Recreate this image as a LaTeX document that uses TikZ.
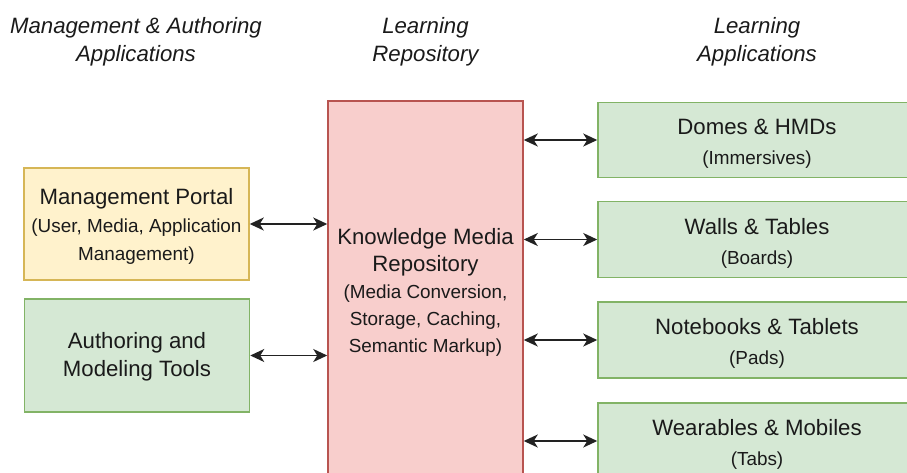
\documentclass[tikz,border=0pt]{standalone}
\usepackage{fontspec}
\setmainfont{Liberation Sans}
\usetikzlibrary{arrows.meta}

\definecolor{greenfill}{HTML}{D5E8D4}
\definecolor{greenline}{HTML}{82B366}
\definecolor{yellowfill}{HTML}{FFF2CC}
\definecolor{yellowline}{HTML}{D6B656}
\definecolor{redfill}{HTML}{F8CECC}
\definecolor{redline}{HTML}{B85450}
\definecolor{inkcol}{HTML}{1A1A1A}
\definecolor{arrowcol}{HTML}{222222}

\newcommand{\mainsize}{\fontsize{22.2}{28}\selectfont}
\newcommand{\subsize}{\fontsize{18.9}{28}\selectfont}

\tikzset{
  box/.style={draw, line width=1.5pt, inner sep=0pt},
  greenbox/.style={box, fill=greenfill, draw=greenline},
  yellowbox/.style={box, fill=yellowfill, draw=yellowline},
  redbox/.style={box, fill=redfill, draw=redline},
  boxtext/.style={align=center, text=inkcol, inner sep=0pt, font=\mainsize},
  heading/.style={boxtext, font=\mainsize\itshape},
  link/.style={draw=arrowcol, line width=1.6pt,
               {Stealth[length=14pt,width=13pt,inset=4pt]}-{Stealth[length=14pt,width=13pt,inset=4pt]}},
}

\begin{document}
\begin{tikzpicture}[x=1pt,y=-1pt]
  \useasboundingbox (0,0) rectangle (907,472);
  \clip (0,0) rectangle (907,472);

  % column headings
  \node[heading] (hleft)  at (136,42)   {Management \& Authoring\\Applications};
  \node[heading] (hmid)   at (425.5,42) {Learning\\Repository};
  \node[heading] (hright) at (757,42)   {Learning\\Applications};

  % management and authoring applications
  \node[yellowbox, minimum width=225pt, minimum height=112pt] (portal) at (136.5,224) {};
  \node[boxtext] (portaltext) at (136.5,226)
    {Management Portal\\{\subsize (User, Media, Application}\\{\subsize Management)}};
  \node[greenbox, minimum width=225pt, minimum height=113pt] (author) at (137,355.5) {};
  \node[boxtext] (authortext) at (137,357)
    {Authoring and\\Modeling Tools};

  % central repository
  \node[redbox, minimum width=195pt, minimum height=380pt] (repo) at (425.5,291) {};
  \node[boxtext] (repotext) at (425.5,292)
    {Knowledge Media\\[-1pt]Repository\\[-1pt]{\subsize (Media Conversion,}\\[-1pt]{\subsize Storage, Caching,}\\[-1pt]{\subsize Semantic Markup)}};

  % learning applications
  \node[greenbox, minimum width=318pt, minimum height=75pt] (domes) at (757,140) {};
  \node[boxtext] (domestext) at (757,143.5)
    {Domes \& HMDs\\[2pt]{\subsize (Immersives)}};
  \node[greenbox, minimum width=318pt, minimum height=76pt] (walls) at (757,239.5) {};
  \node[boxtext] (wallstext) at (757,243)
    {Walls \& Tables\\[2pt]{\subsize (Boards)}};
  \node[greenbox, minimum width=318pt, minimum height=76pt] (pads) at (757,340) {};
  \node[boxtext] (padstext) at (757,343.5)
    {Notebooks \& Tablets\\[2pt]{\subsize (Pads)}};
  \node[greenbox, minimum width=318pt, minimum height=76pt] (wear) at (757,441) {};
  \node[boxtext] (weartext) at (757,444.5)
    {Wearables \& Mobiles\\[2pt]{\subsize (Tabs)}};

  % connectors
  \draw[link] (portal.east) -- (repo.west |- portal.east);
  \draw[link] (author.east) -- (repo.west |- author.east);
  \draw[link] (repo.east |- domes.west) -- (domes.west);
  \draw[link] (repo.east |- walls.west) -- (walls.west);
  \draw[link] (repo.east |- pads.west) -- (pads.west);
  \draw[link] (repo.east |- wear.west) -- (wear.west);
\end{tikzpicture}
\end{document}
